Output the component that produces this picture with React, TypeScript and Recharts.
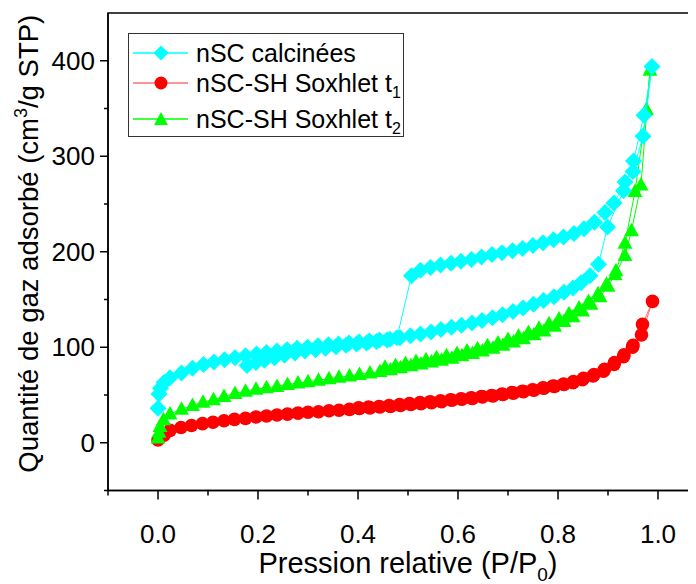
import React from "react";
import {
  ScatterChart,
  Scatter,
  XAxis,
  YAxis,
  Legend,
  Label,
  ReferenceArea,
} from "recharts";

const calcAdsorption: [number, number][] = [
  [0.0, 36], [0.002, 51], [0.005, 57], [0.012, 63], [0.024, 68], [0.047, 73],
  [0.069, 78], [0.091, 82], [0.112, 84.5], [0.133, 87], [0.154, 89], [0.175, 91],
  [0.197, 93], [0.217, 94.5], [0.238, 96], [0.258, 97.5], [0.278, 99], [0.299, 100],
  [0.32, 101.5], [0.341, 102.5], [0.361, 103.5], [0.382, 104.5], [0.402, 105.5],
  [0.423, 106.5], [0.443, 107.5], [0.464, 108.5], [0.484, 110], [0.505, 112],
  [0.525, 114], [0.546, 116], [0.566, 118.5], [0.587, 121], [0.607, 123],
  [0.628, 125.5], [0.648, 128], [0.669, 131], [0.689, 134], [0.71, 137.5],
  [0.73, 141], [0.751, 145], [0.771, 149], [0.792, 153], [0.812, 157.5],
  [0.83, 162], [0.846, 167.5], [0.864, 175], [0.881, 187], [0.899, 226],
  [0.931, 264], [0.951, 295], [0.972, 343], [0.988, 394],
];
const calcDesorption: [number, number][] = [
  [0.97, 321], [0.95, 284], [0.934, 273], [0.912, 251], [0.894, 241], [0.873, 231],
  [0.852, 224], [0.832, 219], [0.811, 215.5], [0.791, 212.5], [0.77, 209.5],
  [0.75, 206.5], [0.729, 203.5], [0.709, 201], [0.688, 199], [0.668, 197],
  [0.647, 194.5], [0.627, 192], [0.606, 190], [0.586, 188], [0.565, 186],
  [0.545, 183.5], [0.525, 180.5], [0.507, 175], [0.478, 110], [0.458, 107.5],
  [0.437, 106], [0.417, 104.5], [0.397, 103.5], [0.376, 102], [0.356, 100.5],
  [0.335, 99], [0.315, 97.5], [0.294, 96], [0.274, 94], [0.253, 91.5],
  [0.233, 89], [0.213, 86.5], [0.196, 84], [0.178, 81],
];

const t1Adsorption: [number, number][] = [
  [0.0, 3], [0.012, 8], [0.024, 13], [0.046, 16], [0.067, 18], [0.089, 20],
  [0.11, 21.5], [0.132, 23], [0.153, 24.5], [0.175, 25.5], [0.196, 27], [0.217, 28],
  [0.238, 29], [0.259, 30], [0.28, 31], [0.3, 32], [0.321, 32.5], [0.342, 33.5],
  [0.362, 34], [0.383, 35], [0.403, 36], [0.424, 36.5], [0.444, 37.5], [0.465, 38],
  [0.485, 39], [0.506, 40], [0.526, 41], [0.547, 42], [0.567, 43], [0.588, 44.5],
  [0.608, 45.5], [0.629, 46.5], [0.649, 48], [0.67, 49], [0.69, 50.5], [0.711, 52],
  [0.731, 53.5], [0.752, 55], [0.772, 57], [0.793, 59], [0.812, 61], [0.83, 63],
  [0.849, 66], [0.87, 70], [0.891, 75], [0.912, 82], [0.931, 90], [0.949, 100],
  [0.967, 113], [0.989, 148],
];
const t1Desorption: [number, number][] = [
  [0.969, 124], [0.95, 102], [0.932, 92], [0.913, 84], [0.893, 77], [0.872, 71.5],
  [0.851, 67.5], [0.831, 64], [0.811, 61.5], [0.79, 59.5], [0.77, 57.5], [0.749, 55.5],
  [0.729, 54], [0.708, 52.5], [0.688, 51], [0.667, 49.5], [0.647, 48.5], [0.626, 47],
  [0.606, 46], [0.585, 45], [0.565, 44], [0.544, 43], [0.524, 42], [0.503, 41],
  [0.483, 40], [0.462, 39], [0.442, 38], [0.421, 37.5], [0.401, 36.5],
];

const t2Adsorption: [number, number][] = [
  [0.0, 5], [0.002, 11], [0.004, 17], [0.011, 24], [0.024, 30], [0.047, 35],
  [0.069, 39], [0.09, 42.5], [0.111, 45], [0.132, 48.5], [0.154, 51.5], [0.175, 54],
  [0.196, 56], [0.217, 57.5], [0.238, 59], [0.259, 61], [0.28, 62.5], [0.3, 64],
  [0.321, 65.5], [0.342, 67], [0.362, 68.5], [0.383, 70], [0.403, 71.5], [0.424, 73],
  [0.444, 74.5], [0.465, 76.5], [0.485, 78.5], [0.506, 80.5], [0.526, 82.5],
  [0.547, 84.5], [0.567, 86.5], [0.588, 88.5], [0.608, 91], [0.629, 93.5],
  [0.649, 96], [0.67, 99], [0.69, 102], [0.711, 105.5], [0.731, 109], [0.752, 113],
  [0.772, 117], [0.793, 122], [0.812, 127], [0.83, 132], [0.849, 138], [0.866, 145],
  [0.884, 153], [0.9, 164], [0.914, 176], [0.934, 196], [0.947, 222], [0.966, 270],
  [0.984, 390],
];
const t2Desorption: [number, number][] = [
  [0.977, 349], [0.954, 263], [0.934, 209], [0.916, 180], [0.897, 166], [0.88, 156],
  [0.861, 148], [0.842, 141], [0.822, 135], [0.802, 129.5], [0.782, 124.5],
  [0.762, 120], [0.741, 115.5], [0.721, 111.5], [0.7, 108], [0.68, 104.5],
  [0.659, 101.5], [0.639, 98.5], [0.618, 96], [0.598, 93.5], [0.577, 91],
  [0.557, 89], [0.536, 87], [0.516, 85], [0.495, 83], [0.475, 81], [0.454, 79],
];

const xTicks = [-0.1, 0, 0.1, 0.2, 0.3, 0.4, 0.5, 0.6, 0.7, 0.8, 0.9, 1.0];
const yTicks = [-50, 0, 50, 100, 150, 200, 250, 300, 350, 400];

const toPoints = (rows: [number, number][]) => rows.map(([p, v]) => ({ p, v }));
const calcData = toPoints([...calcAdsorption, ...calcDesorption]);
const t1Data = toPoints([...t1Adsorption, ...t1Desorption]);
const t2Data = toPoints([...t2Adsorption, ...t2Desorption]);

const FONT = "'Liberation Sans', Arial, sans-serif";
const CYAN = "#00ffff";
const RED = "#ff0000";
const RED_LINE = "#ff7070";
const GREEN = "#00ff00";

const TICK = 8;
const GAP = 4;

const Diamond = (props: any) => {
  const { cx, cy } = props;
  const r = 8.5;
  return (
    <polygon
      points={`${cx},${cy - r} ${cx + r},${cy} ${cx},${cy + r} ${cx - r},${cy}`}
      fill={CYAN}
    />
  );
};

const Dot = (props: any) => <circle cx={props.cx} cy={props.cy} r={6.8} fill={RED} />;

const Triangle = (props: any) => {
  const { cx, cy } = props;
  return (
    <polygon
      points={`${cx},${cy - 8} ${cx + 7.5},${cy + 5.5} ${cx - 7.5},${cy + 5.5}`}
      fill={GREEN}
    />
  );
};

const YTick = (props: any) => {
  const { x, y, payload } = props;
  const v = payload.value;
  const major = v % 100 === 0;
  const ax = x + TICK + GAP;
  return (
    <g>
      <line x1={ax} x2={ax - (major ? 8 : 4)} y1={y} y2={y} stroke="#000" strokeWidth={1.5} />
      {major && (
        <text x={ax - 9 - GAP} y={y} dy="0.35em" textAnchor="end" fontSize={26} fontFamily={FONT} fill="#000">
          {v}
        </text>
      )}
    </g>
  );
};

const XTick = (props: any) => {
  const { x, y, payload } = props;
  const v = payload.value;
  const major = Math.round(v * 10) % 2 === 0;
  const ay = y - TICK - GAP;
  return (
    <g>
      <line x1={x} x2={x} y1={ay} y2={ay + (major ? 9 : 5)} stroke="#000" strokeWidth={1.5} />
      {major && (
        <text x={x} y={ay + 52} textAnchor="middle" fontSize={26} fontFamily={FONT} fill="#000">
          {v.toFixed(1)}
        </text>
      )}
    </g>
  );
};

const XTitle = (props: any) => {
  const vb = props.viewBox;
  return (
    <text x={vb.x + vb.width / 2} y={vb.y + 82} textAnchor="middle" fontSize={29} fontFamily={FONT} fill="#000">
      Pression relative (P/P
      <tspan fontSize={19} dy={8}>0</tspan>
      <tspan dy={-8}>)</tspan>
    </text>
  );
};

const YTitle = (props: any) => {
  const vb = props.viewBox;
  const cx = vb.x + 10;
  const cy = vb.y + vb.height / 2 - 8;
  return (
    <text
      x={cx}
      y={cy}
      dy="0.35em"
      transform={`rotate(-90, ${cx}, ${cy})`}
      textAnchor="middle"
      fontSize={27.5}
      fontFamily={FONT}
      fill="#000"
    >
      Quantité de gaz adsorbé (cm
      <tspan fontSize={18} dy={-11}>3</tspan>
      <tspan dy={11}>/g STP)</tspan>
    </text>
  );
};

const legendRows = [
  { label: "nSC calcinées", sub: "", color: CYAN, line: CYAN, shape: "diamond" },
  { label: "nSC-SH Soxhlet t", sub: "1", color: RED, line: RED_LINE, shape: "circle" },
  { label: "nSC-SH Soxhlet t", sub: "2", color: GREEN, line: GREEN, shape: "triangle" },
];
const legendTops = [4, 34, 70];

const LegendIcon = ({ shape, color, line }: any) => (
  <svg width={60} height={30} style={{ position: "absolute", left: 2, top: 0 }}>
    <line x1={2} x2={57} y1={15} y2={15} stroke={line} strokeWidth={1.5} />
    {shape === "diamond" && <polygon points="30,7.5 37.5,15 30,22.5 22.5,15" fill={color} />}
    {shape === "circle" && <circle cx={30} cy={15} r={6.5} fill={color} />}
    {shape === "triangle" && <polygon points="30,8 37,21 23,21" fill={color} />}
  </svg>
);

const renderLegend = () => (
  <div
    style={{
      position: "relative",
      width: 274,
      height: 102,
      border: "1px solid #333",
      background: "#fff",
      fontFamily: FONT,
    }}
  >
    {legendRows.map((r, i) => (
      <div key={i} style={{ position: "absolute", left: 0, top: legendTops[i], height: 30, width: 274 }}>
        <LegendIcon shape={r.shape} color={r.color} line={r.line} />
        <span style={{ position: "absolute", left: 67, top: 0, lineHeight: "30px", fontSize: 25, color: "#000", whiteSpace: "nowrap" }}>
          {r.label}
          {r.sub && <sub style={{ fontSize: 16 }}>{r.sub}</sub>}
        </span>
      </div>
    ))}
  </div>
);

export default function App() {
  return (
    <div style={{ width: 688, height: 576, overflow: "hidden", position: "relative", background: "#fff" }}>
      <ScatterChart width={720} height={576} margin={{ top: 5, right: 20, bottom: 4, left: 10 }}>
        <XAxis
          type="number"
          dataKey="p"
          domain={[-0.1, 1.1]}
          ticks={xTicks}
          interval={0}
          allowDataOverflow
          height={89.5}
          axisLine={{ stroke: "#000", strokeWidth: 1.5 }}
          tickLine={false}
          tickSize={TICK}
          tickMargin={GAP}
          tick={<XTick />}
        >
          <Label content={XTitle} />
        </XAxis>
        <YAxis
          type="number"
          dataKey="v"
          domain={[-50, 450]}
          ticks={yTicks}
          interval={0}
          allowDataOverflow
          width={90}
          axisLine={{ stroke: "#000", strokeWidth: 1.5 }}
          tickLine={false}
          tickSize={TICK}
          tickMargin={GAP}
          tick={<YTick />}
        >
          <Label content={YTitle} />
        </YAxis>
        <ReferenceArea x1={-0.1} x2={1.1} y1={-50} y2={450} fill="none" stroke="#000" strokeWidth={1.5} />
        <Scatter data={t1Data} shape={Dot} line={{ stroke: RED_LINE, strokeWidth: 1 }} isAnimationActive={false} />
        <Scatter data={t2Data} shape={Triangle} line={{ stroke: GREEN, strokeWidth: 1 }} isAnimationActive={false} />
        <Scatter data={calcData} shape={Diamond} line={{ stroke: CYAN, strokeWidth: 1 }} isAnimationActive={false} />
        <Legend
          layout="vertical"
          align="center"
          verticalAlign="middle"
          content={renderLegend}
          wrapperStyle={{ left: 120, top: 25, width: 276, height: 104 }}
        />
      </ScatterChart>
    </div>
  );
}
